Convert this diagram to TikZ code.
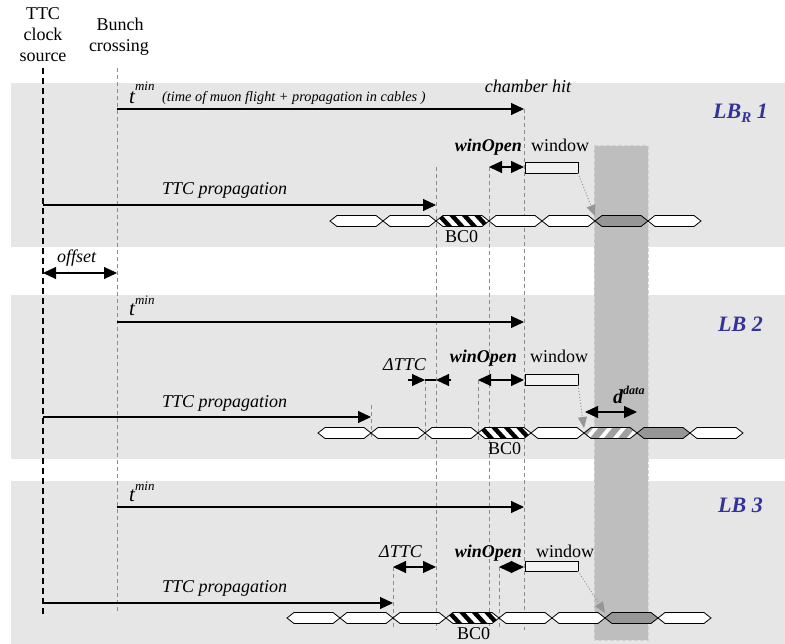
\documentclass[tikz,border=0pt]{standalone}
\usepackage{fontspec}
\setmainfont{Liberation Serif}
\usetikzlibrary{arrows.meta}
\definecolor{band}{RGB}{230,230,230}
\definecolor{colfill}{RGB}{190,190,190}
\definecolor{colborder}{RGB}{212,212,212}
\definecolor{selgray}{RGB}{150,150,150}
\definecolor{datagray}{RGB}{160,160,160}
\definecolor{lbblue}{RGB}{51,51,153}
\definecolor{vgray}{RGB}{140,140,140}
\definecolor{dotgray}{RGB}{150,150,150}
\definecolor{boxfill}{RGB}{242,242,242}

\tikzset{
  txt/.style={inner sep=0pt, anchor=base west, font=\fontsize{18}{21}\selectfont},
  itxt/.style={txt, font=\fontsize{18}{21}\selectfont\itshape},
  btxt/.style={txt, font=\fontsize{18}{21}\selectfont\bfseries\itshape},
  lbname/.style={inner sep=0pt, anchor=base west, text=lbblue, font=\fontsize{22}{22}\selectfont\bfseries\itshape},
  hexst/.style={draw=black, line width=0.8pt, line join=miter},
  vdash/.style={draw=vgray, line width=0.8pt, dash pattern=on 4pt off 3pt},
  srcline/.style={draw=black, line width=1.6pt, dash pattern=on 6pt off 4pt},
  arr/.style={line width=1.1pt, -{Triangle[length=13pt,width=12pt]}},
  darr/.style={line width=1.1pt, {Triangle[length=13pt,width=12pt]}-{Triangle[length=13pt,width=12pt]}},
  dotarr/.style={draw=dotgray, line width=1pt, dotted, -{Triangle[length=11pt,width=9pt,fill=dotgray]}},
  winbox/.style={draw=black, line width=0.9pt, fill=boxfill}
}

\newcommand{\hexcell}[4]{\filldraw[hexst, fill=#4] (#1,#3) -- ({#1+7},{#3-5.5}) -- ({#2-7},{#3-5.5}) -- (#2,#3) -- ({#2-7},{#3+5.5}) -- ({#1+7},{#3+5.5}) -- cycle;}
\newcommand{\hexclip}[3]{\clip (#1,#3) -- ({#1+7},{#3-5.5}) -- ({#2-7},{#3-5.5}) -- (#2,#3) -- ({#2-7},{#3+5.5}) -- ({#1+7},{#3+5.5}) -- cycle;}
\newcommand{\hexline}[3]{\draw[hexst] (#1,#3) -- ({#1+7},{#3-5.5}) -- ({#2-7},{#3-5.5}) -- (#2,#3) -- ({#2-7},{#3+5.5}) -- ({#1+7},{#3+5.5}) -- cycle;}
\newcommand{\bczerocell}[3]{%
  \begin{scope}
    \hexclip{#1}{#2}{#3}
    \fill[white] (#1,{#3-6}) rectangle (#2,{#3+6});
    \foreach \k in {-1,...,5}{\fill[black] ({#1+\k*12.5},{#3-6}) -- ++(6,0) -- ++(11,12) -- ++(-6,0) -- cycle;}
  \end{scope}
  \hexline{#1}{#2}{#3}}
\newcommand{\datacell}[3]{%
  \begin{scope}
    \hexclip{#1}{#2}{#3}
    \fill[datagray] (#1,{#3-6}) rectangle (#2,{#3+6});
    \foreach \k in {-1,...,5}{\fill[white] ({#1+\k*14},{#3+6}) -- ++(5,0) -- ++(10,-12) -- ++(-5,0) -- cycle;}
  \end{scope}
  \hexline{#1}{#2}{#3}}

\begin{document}
\begin{tikzpicture}[x=1pt,y=-1pt]
\useasboundingbox (0,0) rectangle (785,644);

% bands
\fill[band] (11,83) rectangle (785,247);
\fill[band] (11,295) rectangle (785,459);
\fill[band] (11,481) rectangle (785,644);

% highlighted column
\fill[colfill] (594,146) rectangle (648,640);
\draw[colborder, line width=1pt, dash pattern=on 4pt off 2pt] (594,146) rectangle (648,640);

% header
\node[txt, anchor=base] (h1) at (43,20) {TTC};
\node[txt, anchor=base] (h2) at (43,41) {clock};
\node[txt, anchor=base] (h3) at (43,62) {source};
\node[txt, anchor=base] (h4) at (120,31) {Bunch};
\node[txt, anchor=base] (h5) at (119,52) {crossing};

% reference time lines
\coordinate (srcT) at (43,68);  \coordinate (srcB) at (43,614);
\coordinate (bxT) at (117,68);  \coordinate (bxB) at (117,614);
\draw[srcline] (srcT) -- (srcB);
\draw[vdash] (bxT) -- (bxB);

% long dashed markers
\coordinate (a436T) at (436,167); \coordinate (a436B) at (436,630);
\coordinate (a489T) at (489,167); \coordinate (a489B) at (489,630);
\coordinate (chT) at (524,109);   \coordinate (chB) at (524,630);
\draw[vdash] (a436T) -- (a436B);
\draw[vdash] (a489T) -- (a489B);
\draw[vdash] (chT) -- (chB);
% LB2 markers
\draw[vdash] (371,405) -- (371,440);
\draw[vdash] (425,380) -- (425,440);
\draw[vdash] (478,380) -- (478,440);
% LB3 markers
\draw[vdash] (393,567) -- (393,628);
\draw[vdash] (499,567) -- (499,628);

% ================= LB_R 1 =================
\node[lbname] (lb1) at (713,119) {LB\raisebox{-4pt}{\fontsize{15}{15}\selectfont R} 1};
\node[txt, anchor=base west] (tm1) at (129,104) {\fontsize{21}{21}\selectfont\itshape t\raisebox{13pt}{\fontsize{13}{13}\selectfont min}};
\node[txt, anchor=base west, font=\fontsize{14.3}{16}\selectfont\itshape] (tm1x) at (162,102) {(time of muon flight + propagation in cables )};
\node[itxt, anchor=base] (chit) at (528,93) {chamber hit};
\coordinate (t1s) at (117,109); \coordinate (t1e) at (524,109);
\draw[arr] (t1s) -- (t1e);

\node[btxt, anchor=base east] (wo1) at (522,152) {winOpen};
\node[txt] (wl1) at (531,152) {window};
\coordinate (wo1s) at (489,167); \coordinate (wo1e) at (524,167);
\draw[darr] (wo1s) -- (wo1e);
\draw[winbox] (525,162) rectangle (578,173);
\coordinate (wb1) at (578,173); \coordinate (hit1) at (595,216);
\draw[dotarr] (wb1) -- (hit1);

\node[itxt] (tp1) at (162,195) {TTC propagation};
\coordinate (tp1s) at (43,205); \coordinate (tp1e) at (436,205);
\draw[arr] (tp1s) -- (tp1e);

\hexcell{330}{383}{221}{white}
\hexcell{383}{436}{221}{white}
\hexcell{489}{542}{221}{white}
\hexcell{542}{595}{221}{white}
\hexcell{648}{701}{221}{white}
\hexcell{595}{648}{221}{selgray}
\bczerocell{436}{489}{221}
\node[txt] (bc1) at (445,243) {BC0};

% offset
\node[itxt] (off) at (57,263) {offset};
\coordinate (offs) at (43,273); \coordinate (offe) at (117,273);
\draw[darr] (offs) -- (offe);

% ================= LB 2 =================
\node[lbname] (lb2) at (718,332) {LB 2};
\node[txt, anchor=base west] (tm2) at (129,316) {\fontsize{21}{21}\selectfont\itshape t\raisebox{11pt}{\fontsize{13}{13}\selectfont min}};
\coordinate (t2s) at (117,322); \coordinate (t2e) at (524,322);
\draw[arr] (t2s) -- (t2e);

\node[itxt] (dt2) at (383,371) {ΔTTC};
\draw[arr] (408,380) -- (425,380);
\draw[arr] (451,380) -- (436,380);
\draw[line width=1.1pt] (425,380) -- (436,380);

\node[btxt, anchor=base east] (wo2) at (517,363) {winOpen};
\node[txt] (wl2) at (530,363) {window};
\coordinate (wo2s) at (478,380); \coordinate (wo2e) at (524,380);
\draw[darr] (wo2s) -- (wo2e);
\draw[winbox] (525,374) rectangle (578,385);
\coordinate (wb2) at (578,385); \coordinate (hit2) at (584,428);
\draw[dotarr] (wb2) -- (hit2);

\node[txt, anchor=base west] (dd) at (613,403) {\fontsize{20}{20}\selectfont\bfseries\itshape d\raisebox{9pt}{\fontsize{12}{12}\selectfont data}};
\coordinate (dds) at (585,412); \coordinate (dde) at (637,412);
\draw[darr] (dds) -- (dde);

\node[itxt] (tp2) at (162,407) {TTC propagation};
\coordinate (tp2s) at (43,417); \coordinate (tp2e) at (371,417);
\draw[arr] (tp2s) -- (tp2e);

\hexcell{318}{371}{433}{white}
\hexcell{371}{425}{433}{white}
\hexcell{425}{478}{433}{white}
\hexcell{531}{584}{433}{white}
\hexcell{690}{743}{433}{white}
\hexcell{637}{690}{433}{selgray}
\bczerocell{478}{531}{433}
\datacell{584}{637}{433}
\node[txt] (bc2) at (488,454) {BC0};

% ================= LB 3 =================
\node[lbname] (lb3) at (718,512) {LB 3};
\node[txt, anchor=base west] (tm3) at (129,501) {\fontsize{21}{21}\selectfont\itshape t\raisebox{11pt}{\fontsize{13}{13}\selectfont min}};
\coordinate (t3s) at (117,507); \coordinate (t3e) at (524,507);
\draw[arr] (t3s) -- (t3e);

\node[itxt] (dt3) at (379,557) {ΔTTC};
\coordinate (dt3s) at (393,567); \coordinate (dt3e) at (436,567);
\draw[darr] (dt3s) -- (dt3e);

\node[btxt, anchor=base east] (wo3) at (522,557) {winOpen};
\node[txt] (wl3) at (536,557) {window};
\coordinate (wo3s) at (499,567); \coordinate (wo3e) at (524,567);
\draw[darr] (wo3s) -- (wo3e);
\draw[winbox] (525,561) rectangle (578,571);
\coordinate (wb3) at (578,571); \coordinate (hit3) at (605,613);
\draw[dotarr] (wb3) -- (hit3);

\node[itxt] (tp3) at (162,592) {TTC propagation};
\coordinate (tp3s) at (43,603); \coordinate (tp3e) at (393,603);
\draw[arr] (tp3s) -- (tp3e);

\hexcell{287}{340}{618}{white}
\hexcell{340}{393}{618}{white}
\hexcell{393}{446}{618}{white}
\hexcell{499}{552}{618}{white}
\hexcell{552}{605}{618}{white}
\hexcell{658}{711}{618}{white}
\hexcell{605}{658}{618}{selgray}
\bczerocell{446}{499}{618}
\node[txt] (bc3) at (457,639) {BC0};
\end{tikzpicture}
\end{document}
